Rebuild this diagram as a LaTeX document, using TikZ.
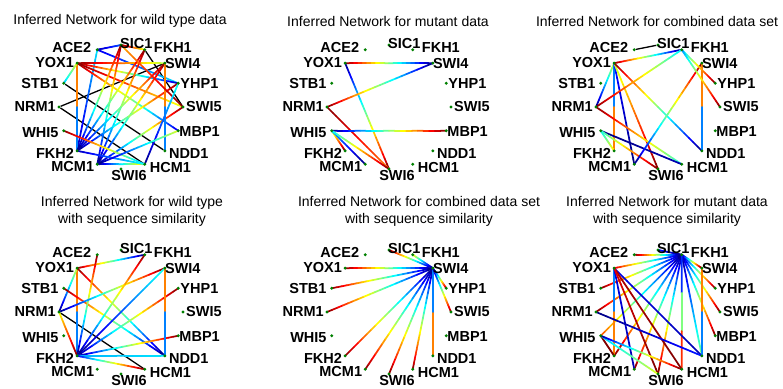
\documentclass[tikz,border=0pt]{standalone}
\usepackage{fontspec}
\setmainfont{Liberation Sans}
\usetikzlibrary{positioning, calc, backgrounds}
\tikzset{gene_dot/.style={circle, fill=green!50!black, inner sep=0pt, minimum size=3.2pt},
gene_lab/.style={font=\fontsize{14.5}{15}\selectfont\bfseries, inner sep=0pt},
title_t/.style={font=\fontsize{14}{17}\selectfont, align=center, inner sep=0pt},
jet_seg/.style={line width=1.7pt, line cap=round},
link_k/.style={line width=1.3pt, black}}

% colour of the jet map, 0 = dark blue, 1 = dark red
\newcommand{\jetcol}[1]{%
  \pgfmathsetmacro\jr{max(0,min(1,1.5-abs(4*#1-3)))}%
  \pgfmathsetmacro\jg{max(0,min(1,1.5-abs(4*#1-2)))}%
  \pgfmathsetmacro\jb{max(0,min(1,1.5-abs(4*#1-1)))}%
  \definecolor{jc}{rgb}{\jr,\jg,\jb}}
% edge from #1 to #2, value #3 at #1 and #4 at #2, in #5 pieces
\newcommand{\jetline}[5]{%
  \foreach \k in {1,...,#5}{%
    \pgfmathsetmacro\jt{(\k-0.5)/#5}%
    \pgfmathsetmacro\jv{#3+(#4-#3)*\jt}%
    \jetcol{\jv}%
    \pgfmathsetmacro\ja{(\k-1)/#5}%
    \pgfmathsetmacro\jz{\k/#5}%
    \draw[jet_seg, draw=jc] ($(#1)!\ja!(#2)$) -- ($(#1)!\jz!(#2)$);
  }}
% the sixteen genes round a circle
\newcommand{\genepanel}[3]{%
  \foreach \g/\ang/\anc/\dx/\dy in {SIC1/90/west/-1/-1, FKH1/67.5/west/9/-2.5, SWI4/45/west/0/0,
      YHP1/22.5/west/2/0, SWI5/0/west/3/0, MBP1/-22.5/west/1/0.5, NDD1/-45/west/4/3,
      HCM1/-67.5/west/5/3, SWI6/-90/center/8/7, MCM1/-112.5/east/-3/2, FKH2/-135/east/-3/3,
      WHI5/-157.5/east/-5/2, NRM1/180/east/-3/0, STB1/157.5/east/-5/0, YOX1/135/east/-3/-1,
      ACE2/112.5/east/-6/-2}{
    \node[gene_dot] (#1\g) at ({#2+62*cos(\ang)},{#3-62*sin(\ang)}) {};
    \node[gene_lab, anchor=\anc] at ([shift={(\dx,\dy)}]#1\g.center) {\g};
  }}

\begin{document}
\begin{tikzpicture}[x=1pt, y=-1pt]
  \useasboundingbox (0,0) rectangle (783,388);
  % titles
  \node[title_t] (ta) at (120,21) {Inferred Network for wild type data};
  \node[title_t] (tb) at (388,21) {Inferred Network for mutant data};
  \node[title_t] (tc) at (657,21) {Inferred Network for combined data set};
  \node[title_t] (td) at (132,211) {Inferred Network for wild type\\with sequence similarity};
  \node[title_t] (te) at (419,211) {Inferred Network for combined data set\\with sequence similarity};
  \node[title_t] (tf) at (667,211) {Inferred Network for mutant data\\with sequence similarity};
  % genes
  \genepanel{a}{121}{107}
  \genepanel{b}{389}{107}
  \genepanel{c}{658}{107}
  \genepanel{d}{121}{312}
  \genepanel{e}{389}{312}
  \genepanel{f}{658}{312}
  \begin{pgfonlayer}{background}
    % wild type
    \foreach \u/\v in {NRM1/SWI4, NRM1/HCM1, STB1/NDD1, FKH1/SWI5}
      \draw[link_k] (a\u) -- (a\v);
    \foreach \u/\v/\s/\e/\n in {ACE2/SIC1/0.05/0.2/20, SIC1/FKH1/1/0.6/20, ACE2/FKH2/0.35/0.05/20,
        ACE2/YHP1/0.1/0.35/20, YOX1/SWI4/1/0.55/20, YOX1/YHP1/1/0.05/20, YOX1/SWI5/1/0.6/20,
        YOX1/MBP1/1/0.1/20, YOX1/FKH2/1/0/2, STB1/YOX1/0.3/0.6/20, SIC1/MCM1/1/0/20,
        SIC1/FKH2/1/0/20, FKH1/FKH2/1/0/20, FKH1/MCM1/1/0/20, SWI4/FKH2/1/0/20,
        SWI4/MCM1/1/0/20, YHP1/FKH2/1/0/20, SWI5/MCM1/1/0/20, SWI4/NDD1/1/0/2,
        WHI5/HCM1/1/0.3/20, MCM1/HCM1/0/0.7/20, FKH2/HCM1/0.05/0.4/20, SIC1/SWI5/0.7/1/20,
        HCM1/YHP1/0/0.4/20, MBP1/MCM1/0.6/0/20}
      {\jetline{a\u}{a\v}{\s}{\e}{\n}}
    % mutant
    \foreach \u/\v/\s/\e/\n in {YOX1/SWI4/1/0/20, YOX1/SWI6/0/1/20, NRM1/SWI4/1/0/20,
        NRM1/SWI6/1/0.75/20, WHI5/MBP1/0/1/20, WHI5/FKH2/0.5/1/20, WHI5/MCM1/0.3/0/20,
        WHI5/SWI6/0.35/1/20}
      {\jetline{b\u}{b\v}{\s}{\e}{\n}}
    % combined
    \draw[link_k] (cACE2) -- (cSIC1);
    \foreach \u/\v/\s/\e/\n in {YOX1/FKH1/1/0/20, YOX1/NRM1/0.6/0/20, YOX1/FKH2/0/1/2,
        YOX1/MCM1/0.15/0/20, YOX1/SWI6/0.55/1/20, YOX1/NDD1/1/0/20, NRM1/FKH1/1/0.35/20,
        NRM1/HCM1/1/0.4/20, WHI5/FKH2/0.35/0.65/20, WHI5/HCM1/0/0.05/20, WHI5/SWI6/0.4/1/20,
        SWI4/MCM1/1/0/20, SWI4/NDD1/1/0/2, FKH1/YHP1/0.3/1/20, FKH1/SWI5/0.25/1/20}
      {\jetline{c\u}{c\v}{\s}{\e}{\n}}
    % wild type with sequence similarity
    \draw[link_k] (dNRM1) -- (dHCM1);
    \foreach \u/\v/\s/\e/\n in {YOX1/FKH1/1/0/20, YOX1/FKH2/1/0/2, YOX1/NRM1/0.6/0/20,
        YOX1/NDD1/1/0/20, STB1/NDD1/1/0/20, ACE2/FKH2/1/0/20, NRM1/SWI4/0/1/20,
        NRM1/FKH2/0.6/1/20, FKH1/FKH2/1/0/20, FKH2/SWI4/0/0.4/20, FKH2/YHP1/0/1/20,
        FKH2/MBP1/0/1/20, FKH2/NDD1/0.3/0.35/20, FKH2/HCM1/0.1/1/20, SWI4/NDD1/1/0/2}
      {\jetline{d\u}{d\v}{\s}{\e}{\n}}
    % combined with sequence similarity
    \foreach \u/\v/\s/\e/\n in {SIC1/SWI4/1/0/20, FKH1/SWI4/0.65/0/20, YOX1/SWI4/1/0/20,
        STB1/SWI4/1/0/20, NRM1/SWI4/1/0/20, FKH2/SWI4/1/0/20, MCM1/SWI4/1/0/20,
        SWI6/SWI4/1/0/20, HCM1/SWI4/1/0/20, NDD1/SWI4/1/0/2, SWI5/SWI4/1/0/20,
        YHP1/SWI4/1/0/20}
      {\jetline{e\u}{e\v}{\s}{\e}{\n}}
    % mutant with sequence similarity
    \foreach \u/\v/\s/\e/\n in {FKH1/ACE2/0/1/20, FKH1/SIC1/0/0.15/20, FKH1/YOX1/0/0.9/20,
        FKH1/STB1/0/1/20, FKH1/NRM1/0/1/20, FKH1/WHI5/0/0.8/20, FKH1/FKH2/0/1/20,
        FKH1/MCM1/0/1/20, FKH1/SWI6/0/1/20, FKH1/NDD1/0/0.5/20, FKH1/MBP1/0/1/20,
        FKH1/SWI5/0/1/20, FKH1/YHP1/0/1/20, FKH1/SWI4/0/1/20, FKH1/HCM1/0/1/3,
        YOX1/FKH2/0/1/2, YOX1/MCM1/0.1/0.05/20, YOX1/NDD1/0.1/0.05/20, YOX1/HCM1/0.95/1/20,
        YOX1/SWI6/0.9/1/20, NRM1/NDD1/0/0.15/20, WHI5/FKH2/1/1/20, WHI5/SWI6/0.3/0.6/20,
        WHI5/HCM1/0/1/20, SWI4/NDD1/1/0/2}
      {\jetline{f\u}{f\v}{\s}{\e}{\n}}
  \end{pgfonlayer}
\end{tikzpicture}
\end{document}
